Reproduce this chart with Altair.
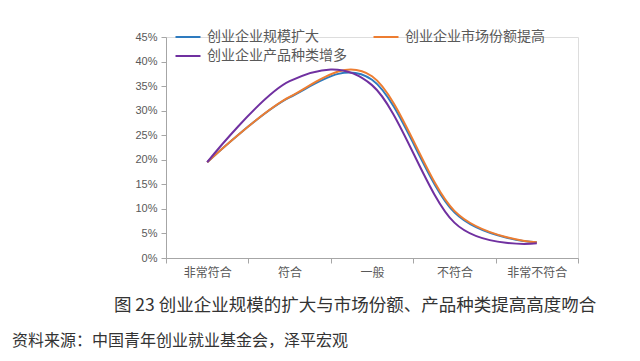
import altair as alt
import pandas as pd

categories = ["非常符合", "符合", "一般", "不符合", "非常不符合"]
series_names = ["创业企业规模扩大", "创业企业市场份额提高", "创业企业产品种类增多"]
blue_vals = [0.195, 0.327, 0.363, 0.093, 0.032]
orange_vals = [0.195, 0.328, 0.370, 0.096, 0.032]
purple_vals = [0.195, 0.360, 0.352, 0.072, 0.030]
colors = ["#2E7BBF", "#ED7D31", "#7030A0"]
legend_order = ["创业企业规模扩大", "创业企业产品种类增多", "创业企业市场份额提高"]
legend_colors = ["#2E7BBF", "#7030A0", "#ED7D31"]
y_ticks = [0, 0.05, 0.10, 0.15, 0.20, 0.25, 0.30, 0.35, 0.40, 0.45]

caption = "图 23  创业企业规模的扩大与市场份额、产品种类提高高度吻合"
source = "资料来源：中国青年创业就业基金会，泽平宏观"

rows = []
for name, vals in zip(series_names, [blue_vals, orange_vals, purple_vals]):
    for c, v in zip(categories, vals):
        rows.append({"cat": c, "series": name, "value": v})
df = pd.DataFrame(rows)

W, H = 412, 221
GREY = "#595959"
AXISC = "#A6A6A6"

lines = alt.Chart(df).mark_line(interpolate="cardinal", strokeWidth=2).encode(
    x=alt.X("cat:N", sort=categories, title=None,
            scale=alt.Scale(type="band", paddingInner=0, paddingOuter=0),
            axis=alt.Axis(tickBand="extent", labelAngle=0, labelFont="Noto Sans CJK SC",
                          labelFontSize=12, labelColor=GREY, labelPadding=4,
                          domainColor=AXISC, tickColor=AXISC, tickSize=5,
                          grid=False)),
    y=alt.Y("value:Q", title=None,
            scale=alt.Scale(domain=[0, 0.45], nice=False, zero=True),
            axis=alt.Axis(values=y_ticks, format=".0%", labelFont="Liberation Sans",
                          labelFontSize=11, labelColor=GREY, labelPadding=4,
                          domainColor=AXISC, tickColor=AXISC, tickSize=5,
                          grid=False)),
    color=alt.Color("series:N", sort=legend_order,
                    scale=alt.Scale(domain=legend_order, range=legend_colors),
                    legend=alt.Legend(orient="none", legendX=15, legendY=-7, columns=2,
                                      title=None, symbolType="M-2.5,0H2.5", symbolSize=100,
                                      symbolStrokeWidth=2, labelFont="Noto Sans CJK SC",
                                      labelFontSize=14, labelColor=GREY, labelOffset=12,
                                      columnPadding=22, rowPadding=5, padding=0,
                                      labelLimit=300)),
    detail="series:N",
)

cap_df = pd.DataFrame({"t": [caption]})
src_df = pd.DataFrame({"t": [source]})

cap = alt.Chart(cap_df).mark_text(font="Noto Sans CJK SC", fontSize=17.5, color="#333333",
                                  align="center", baseline="middle").encode(
    text="t:N", x=alt.value(189), y=alt.value(269))
src = alt.Chart(src_df).mark_text(font="Noto Sans CJK SC", fontSize=16, color="#333333",
                                  align="left", baseline="middle").encode(
    text="t:N", x=alt.value(-154), y=alt.value(304))

chart = alt.layer(lines, cap, src).properties(
    width=W, height=H,
    autosize=alt.AutoSizeParams(type="none"),
    padding={"left": 158, "top": 29, "right": 54, "bottom": 95},
).configure_view(stroke=None).configure(background="white")

chart.save("out.html", embed_options={"renderer": "svg", "actions": False})
